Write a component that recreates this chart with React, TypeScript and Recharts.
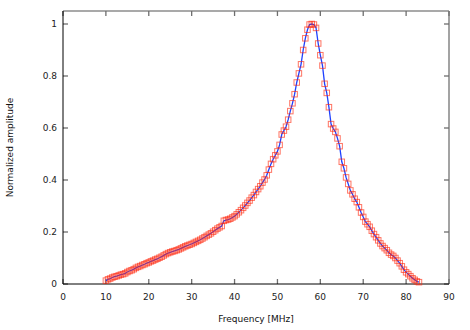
import React from 'react';
import { ComposedChart, Line, XAxis, YAxis, ReferenceLine } from 'recharts';

const freqs = [
  10.0, 10.5, 11.0, 11.5, 12.0, 12.5, 13.0, 13.5, 14.0, 14.5,
  15.0, 15.5, 16.0, 16.5, 17.0, 17.5, 18.0, 18.5, 19.0, 19.5,
  20.0, 20.5, 21.0, 21.5, 22.0, 22.5, 23.0, 23.5, 24.0, 24.5,
  25.0, 25.5, 26.0, 26.5, 27.0, 27.5, 28.0, 28.5, 29.0, 29.5,
  30.0, 30.5, 31.0, 31.5, 32.0, 32.5, 33.0, 33.5, 34.0, 34.5,
  35.0, 35.5, 36.0, 36.5, 37.0, 37.5, 38.0, 38.5, 39.0, 39.5,
  40.0, 40.5, 41.0, 41.5, 42.0, 42.5, 43.0, 43.5, 44.0, 44.5,
  45.0, 45.5, 46.0, 46.5, 47.0, 47.5, 48.0, 48.5, 49.0, 49.5,
  50.0, 50.5, 51.0, 51.5, 52.0, 52.5, 53.0, 53.5, 54.0, 54.5,
  55.0, 55.5, 56.0, 56.5, 57.0, 57.5, 58.0, 58.5, 59.0, 59.5,
  60.0, 60.5, 61.0, 61.5, 62.0, 62.5, 63.0, 63.5, 64.0, 64.5,
  65.0, 65.5, 66.0, 66.5, 67.0, 67.5, 68.0, 68.5, 69.0, 69.5,
  70.0, 70.5, 71.0, 71.5, 72.0, 72.5, 73.0, 73.5, 74.0, 74.5,
  75.0, 75.5, 76.0, 76.5, 77.0, 77.5, 78.0, 78.5, 79.0, 79.5,
  80.0, 80.5, 81.0, 81.5, 82.0, 82.5, 83.0,
];

const amplitudes = [
  0.013, 0.018, 0.021, 0.025, 0.028, 0.030, 0.033, 0.036, 0.038, 0.041,
  0.046, 0.050, 0.053, 0.057, 0.062, 0.066, 0.069, 0.073, 0.076, 0.080,
  0.083, 0.087, 0.090, 0.094, 0.097, 0.101, 0.105, 0.110, 0.115, 0.119,
  0.122, 0.125, 0.127, 0.130, 0.133, 0.137, 0.141, 0.145, 0.148, 0.151,
  0.154, 0.158, 0.162, 0.166, 0.170, 0.175, 0.180, 0.185, 0.190, 0.195,
  0.201, 0.207, 0.213, 0.218, 0.223, 0.243, 0.246, 0.248, 0.251, 0.256,
  0.261, 0.268, 0.276, 0.284, 0.293, 0.302, 0.312, 0.321, 0.332, 0.342,
  0.354, 0.365, 0.376, 0.390, 0.402, 0.418, 0.440, 0.462, 0.480, 0.495,
  0.510, 0.535, 0.575, 0.590, 0.605, 0.632, 0.665, 0.695, 0.730, 0.775,
  0.810, 0.845, 0.900, 0.945, 0.978, 0.998, 1.000, 0.998, 0.985, 0.925,
  0.880, 0.840, 0.770, 0.735, 0.680, 0.615, 0.598, 0.585, 0.560, 0.530,
  0.470, 0.445, 0.410, 0.385, 0.360, 0.345, 0.328, 0.315, 0.295, 0.275,
  0.258, 0.240, 0.230, 0.220, 0.205, 0.192, 0.180, 0.168, 0.156, 0.146,
  0.138, 0.130, 0.120, 0.113, 0.108, 0.100, 0.090, 0.080, 0.068, 0.055,
  0.045, 0.038, 0.030, 0.022, 0.016, 0.010, 0.007,
];

const xTicks = [0, 10, 20, 30, 40, 50, 60, 70, 80, 90];
const yTicks = [0, 0.2, 0.4, 0.6, 0.8, 1];
const xMax = 90;
const yMax = 1.05;

const data = freqs.map((f, i) => ({ f, a: amplitudes[i] }));

const FONT = 'DejaVu Sans';
const TICK_COLOR = '#6e6e6e';
const BORDER_GRAY = '#8c8c8c';
const TICK_LEN = 5;

const XTickMarks = (props: any) => {
  const { x1, y1, y2 } = props;
  if (x1 == null) return null;
  const top = Math.min(y1, y2);
  const bottom = Math.max(y1, y2);
  return (
    <g>
      <line x1={x1} y1={bottom} x2={x1} y2={bottom - TICK_LEN} stroke={TICK_COLOR} strokeWidth={1.3} />
      <line x1={x1} y1={top} x2={x1} y2={top + TICK_LEN} stroke={TICK_COLOR} strokeWidth={1.3} />
    </g>
  );
};

const YTickMarks = (props: any) => {
  const { x1, x2, y1 } = props;
  if (y1 == null) return null;
  const left = Math.min(x1, x2);
  const right = Math.max(x1, x2);
  return (
    <g>
      <line x1={left} y1={y1} x2={left + TICK_LEN} y2={y1} stroke={TICK_COLOR} strokeWidth={1.3} />
      <line x1={right} y1={y1} x2={right - TICK_LEN} y2={y1} stroke={TICK_COLOR} strokeWidth={1.3} />
    </g>
  );
};

const SquareDot = (props: any) => {
  const { cx, cy, index } = props;
  if (cx == null || cy == null) return null;
  return (
    <rect
      key={`sq${index}`}
      x={cx - 2.75}
      y={cy - 2.75}
      width={5.5}
      height={5.5}
      fill="none"
      stroke="#ff2a10"
      strokeOpacity={0.65}
      strokeWidth={1}
    />
  );
};

const tickStyle = { fontFamily: FONT, fontSize: 9, fill: '#222' };

export default function App() {
  return (
    <div style={{ position: 'absolute', left: 0, top: 0, width: 470, height: 330, background: '#fff' }}>
      <ComposedChart width={470} height={330} data={data} margin={{ top: 11, right: 21, left: 0, bottom: 0 }}>
        <XAxis
          dataKey="f"
          type="number"
          domain={[0, xMax]}
          ticks={xTicks}
          height={46}
          axisLine={{ stroke: '#000', strokeWidth: 1 }}
          tickLine={false}
          tickSize={0}
          tickMargin={10}
          tick={tickStyle}
          interval={0}
          label={{ value: 'Frequency [MHz]', position: 'insideBottom', offset: 8, style: { fontFamily: FONT, fontSize: 9, fill: '#111' } }}
        />
        <YAxis
          type="number"
          domain={[0, yMax]}
          ticks={yTicks}
          width={63}
          axisLine={{ stroke: '#000', strokeWidth: 1 }}
          tickLine={false}
          tickSize={0}
          tickMargin={6}
          tick={tickStyle}
          interval={0}
          label={{ value: 'Normalized amplitude', angle: -90, position: 'center', dx: -22, style: { fontFamily: FONT, fontSize: 9, fill: '#111', textAnchor: 'middle' } }}
        />
        <ReferenceLine y={yMax} stroke={BORDER_GRAY} strokeWidth={1.6} ifOverflow="visible" />
        <ReferenceLine x={xMax} stroke={BORDER_GRAY} strokeWidth={1.6} ifOverflow="visible" />
        {xTicks.map((t) => (
          <ReferenceLine key={`xt${t}`} x={t} shape={<XTickMarks />} />
        ))}
        {yTicks.map((t) => (
          <ReferenceLine key={`yt${t}`} y={t} shape={<YTickMarks />} />
        ))}
        <Line
          dataKey="a"
          type="linear"
          stroke="none"
          dot={<SquareDot />}
          activeDot={false}
          legendType="none"
          isAnimationActive={false}
        />
        <Line
          dataKey="a"
          type="linear"
          stroke="#1e40ff"
          strokeWidth={1.3}
          dot={false}
          activeDot={false}
          isAnimationActive={false}
        />
      </ComposedChart>
    </div>
  );
}
